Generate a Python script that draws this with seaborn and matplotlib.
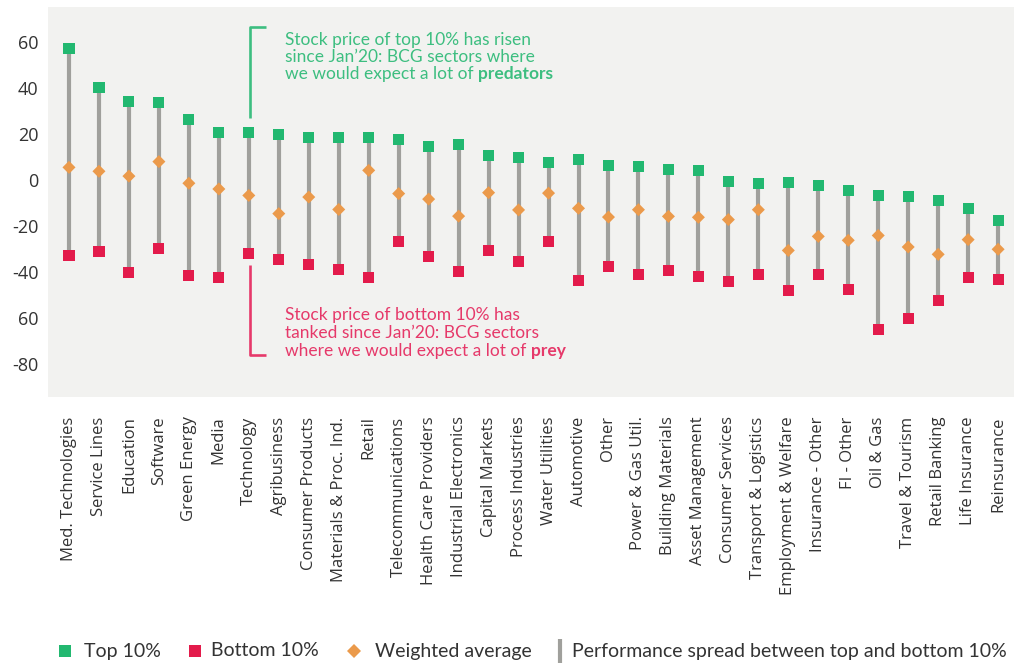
import numpy as np
import pandas as pd
import matplotlib
matplotlib.use("Agg")
import matplotlib.pyplot as plt
from matplotlib.lines import Line2D
import seaborn as sns

categories = ["Med. Technologies", "Service Lines", "Education", "Software", "Green Energy",
              "Media", "Technology", "Agribusiness", "Consumer Products", "Materials & Proc. Ind.",
              "Retail", "Telecommunications", "Health Care Providers", "Industrial Electronics",
              "Capital Markets", "Process Industries", "Water Utilities", "Automotive", "Other",
              "Power & Gas Util.", "Building Materials", "Asset Management", "Consumer Services",
              "Transport & Logistics", "Employment & Welfare", "Insurance - Other", "FI - Other",
              "Oil & Gas", "Travel & Tourism", "Retail Banking", "Life Insurance", "Reinsurance"]
top10 = [57.2, 40.3, 34.2, 33.8, 26.4, 20.7, 20.7, 19.9, 18.6, 18.6, 18.6, 17.7, 14.6, 15.5,
         10.7, 9.9, 7.7, 9.0, 6.4, 6.0, 4.6, 4.2, -0.6, -1.4, -1.0, -2.3, -4.5, -6.7, -7.1,
         -8.8, -12.3, -17.5]
bottom10 = [-32.7, -31.0, -40.1, -29.7, -41.4, -42.3, -31.9, -34.5, -36.7, -38.8, -42.2, -26.7,
            -33.2, -39.7, -30.6, -35.4, -26.7, -43.6, -37.5, -41.0, -39.3, -41.9, -44.1, -41.0,
            -48.0, -41.0, -47.5, -64.9, -60.1, -52.3, -42.3, -43.2]
weighted_avg = [5.5, 3.8, 1.7, 8.0, -1.4, -3.9, -6.7, -14.6, -7.4, -12.8, 4.2, -5.9, -8.3, -15.7,
                -5.5, -13.0, -5.7, -12.3, -16.1, -12.9, -15.8, -16.2, -17.2, -12.9, -30.6, -24.5,
                -26.2, -24.1, -29.1, -32.3, -25.9, -30.1]
ytick_values = [60, 40, 20, 0, -20, -40, -60, -80]
ytick_labels = ["60", "40", "20", "0", "-20", "-40", "60", "-80"]
legend_labels = ["Top 10%", "Bottom 10%", "Weighted average",
                 "Performance spread between top and bottom 10%"]

GREEN = "#22B870"
RED = "#E31B4B"
ORANGE = "#EB9A4B"
GRAY = "#A0A09C"
BG = "#F2F2F0"
TXT_GREEN = "#3DBE80"
TXT_RED = "#E6396A"

sns.set_theme(style="white", rc={"axes.facecolor": BG, "figure.facecolor": "white"})
plt.rcParams["font.family"] = ["Open Sans", "DejaVu Sans"]

df = pd.DataFrame({"category": categories, "top": top10, "bottom": bottom10, "avg": weighted_avg})
df["pos"] = np.arange(len(df))

fig = plt.figure(figsize=(10.14, 6.63), dpi=100)
ax = fig.add_axes([48 / 1014, 1 - 397 / 663, 1 - 48 / 1014, (397 - 7) / 663])

ax.vlines(df["pos"], df["bottom"], df["top"], color=GRAY, lw=3, zorder=1)
sns.scatterplot(data=df, x="pos", y="top", marker="s", s=64, color=GREEN, edgecolor="none",
                ax=ax, zorder=3, legend=False)
sns.scatterplot(data=df, x="pos", y="bottom", marker="s", s=64, color=RED, edgecolor="none",
                ax=ax, zorder=3, legend=False)
sns.scatterplot(data=df, x="pos", y="avg", marker="D", s=44, color=ORANGE, edgecolor="none",
                ax=ax, zorder=3, legend=False)

ax.set_xlim(-0.70, 31.53)
ax.set_ylim(-94.3, 75.2)
ax.set_xticks(df["pos"])
ax.set_xticklabels(categories, rotation=90, fontsize=12, color="#333333", va="top", ha="center")
ax.set_yticks(ytick_values)
ax.set_yticklabels(ytick_labels, fontsize=13, color="#333333")
ax.tick_params(axis="both", length=0)
ax.tick_params(axis="y", pad=7)
ax.tick_params(axis="x", pad=14)
ax.set_xlabel("")
ax.set_ylabel("")
for s in ax.spines.values():
    s.set_visible(False)

# brackets (annotation)
bx = 6.04
ax.plot([bx + 0.53, bx, bx], [66.5, 66.5, 27.0], color=TXT_GREEN, lw=1.9, solid_capstyle="butt",
        clip_on=False)
ax.plot([bx, bx, bx + 0.53], [-37.0, -76.1, -76.1], color=TXT_RED, lw=1.9, solid_capstyle="butt",
        clip_on=False)

afont = dict(family=["Lato", "DejaVu Sans"], fontsize=12.5)
def add_block(lines, bold, color, x_px, y0_px, dy_px):
    t = None
    for i, line in enumerate(lines):
        t = fig.text(x_px / 1014, 1 - (y0_px + i * dy_px) / 663, line, color=color,
                     va="center", ha="left", **afont)
    ax.annotate(bold, xy=(1, 0), xycoords=t, xytext=(3.5, 0), textcoords="offset points",
                va="bottom", ha="left", color=color, fontweight="bold", **afont)

add_block(["Stock price of top 10% has risen", "since Jan\u201920: BCG sectors where",
           "we would expect a lot of"], "predators", TXT_GREEN, 285, 40, 17)
add_block(["Stock price of bottom 10% has", "tanked since Jan\u201920: BCG sectors",
           "where we would expect a lot of"], "prey", TXT_RED, 285, 315, 18)

# legend, drawn item by item at the bottom of the figure
leg_y = 1 - 651 / 663
leg_items = [
    (65, 84, dict(marker="s", color=GREEN, markersize=8)),
    (195, 211, dict(marker="s", color=RED, markersize=8)),
    (354, 375, dict(marker="D", color=ORANGE, markersize=7)),
    (560, 572, dict(marker="|", color=GRAY, markersize=17, markeredgewidth=3)),
]
for (mx, tx, mk), label in zip(leg_items, legend_labels):
    mk = dict(mk)
    mk.setdefault("markeredgewidth", 0)
    fig.add_artist(Line2D([mx / 1014], [leg_y], transform=fig.transFigure, ls="none", **mk))
    fig.text(tx / 1014, leg_y, label, va="center", ha="left", color="#333333",
             family=["Lato", "DejaVu Sans"], fontsize=14)

fig.savefig("out.png", dpi=100)
